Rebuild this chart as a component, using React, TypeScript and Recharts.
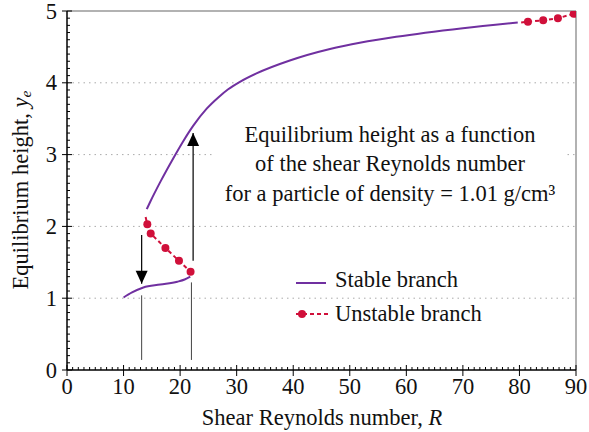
import React from "react";
import { LineChart, Line, XAxis, YAxis, ReferenceLine } from "recharts";

// stable branch, lower and upper pieces (R, y_e)
const stableLowR = [10, 11.5, 13.5, 16.5, 19.5, 20.8, 21.8];
const stableLowY = [1.01, 1.08, 1.15, 1.19, 1.23, 1.26, 1.3];
const stableUpR = [14.1, 14.7, 16.5, 18.8, 20.5, 22.3, 24.7, 26.8, 28.5, 30.5, 33.5, 39.4, 46.5, 52, 58.2, 70, 79.7];
const stableUpY = [2.24, 2.34, 2.62, 2.95, 3.18, 3.4, 3.64, 3.8, 3.91, 4.01, 4.13, 4.31, 4.47, 4.56, 4.64, 4.76, 4.84];

// unstable branch (first point of each piece is a lead-in, no marker)
const unstableLowR = [13.9, 14.2, 14.8, 17.4, 19.8, 21.85];
const unstableLowY = [2.13, 2.03, 1.9, 1.7, 1.52, 1.37];
const unstableUpR = [80.3, 81.5, 84.2, 86.8, 89.6];
const unstableUpY = [4.84, 4.85, 4.87, 4.9, 4.96];

// jump arrows and guide lines
const downArrowR = [13.2, 13.2];
const downArrowY = [1.88, 1.2];
const upArrowR = [22.3, 22.3];
const upArrowY = [1.52, 3.3];
const guideLeftR = [13.2, 13.2];
const guideLeftY = [1.04, 0.14];
const guideRightR = [22.0, 22.0];
const guideRightY = [1.22, 0.14];

const xMajor = [0, 10, 20, 30, 40, 50, 60, 70, 80, 90];
const yMajor = [0, 1, 2, 3, 4, 5];
const gridY = [1, 2, 3, 4];

const xTicks = Array.from({ length: 91 }, (_, i) => i);
const yTicks = Array.from({ length: 51 }, (_, i) => i / 10);

const PURPLE = "#7030a0";
const RED = "#d0103a";
const FONT = '"Liberation Serif", "Times New Roman", serif';
const FS = 22.5;

const pts = (xs: number[], ys: number[]) => xs.map((x, i) => ({ x, y: ys[i] }));

const XTick = (props: any) => {
  const { x, y, payload } = props;
  const v = payload.value;
  const major = xMajor.includes(v);
  return (
    <g>
      <line x1={x} x2={x} y1={major ? y + 6 : y} y2={major ? y - 5 : y - 3} stroke="#000" strokeWidth={1} />
      {major && (
        <text x={x} y={y + 24} textAnchor="middle" fontSize={FS} fontFamily={FONT} fill="#111">
          {v}
        </text>
      )}
    </g>
  );
};

const YTick = (props: any) => {
  const { x, y, payload } = props;
  const v = Math.round(payload.value * 10) / 10;
  const major = yMajor.includes(v);
  return (
    <g>
      <line x1={major ? x - 5 : x} x2={major ? x + 5 : x + 3} y1={y} y2={y} stroke="#000" strokeWidth={1} />
      {major && (
        <text x={x - 10} y={y + 7.5} textAnchor="end" fontSize={FS} fontFamily={FONT} fill="#111">
          {v}
        </text>
      )}
    </g>
  );
};

const redDot = (p: any) =>
  p.index === 0 ? <g key={p.index} /> : <circle key={p.index} cx={p.cx} cy={p.cy} r={4} fill={RED} />;

const arrowHead = (dir: number) => (p: any) =>
  p.index === 1 ? (
    <polygon
      key={p.index}
      points={`${p.cx - 6},${p.cy + dir * 13} ${p.cx + 6},${p.cy + dir * 13} ${p.cx},${p.cy}`}
      fill="#000"
    />
  ) : (
    <g key={p.index} />
  );

export default function App() {
  return (
    <div
      style={{
        position: "absolute",
        left: 0,
        top: 0,
        width: 589,
        height: 432,
        background: "#fff",
        fontFamily: FONT,
        color: "#111",
      }}
    >
      <LineChart width={589} height={432} margin={{ top: 11, right: 13, left: 0, bottom: 0 }}>
        <XAxis
          type="number"
          dataKey="x"
          domain={[0, 90]}
          ticks={xTicks}
          interval={0}
          height={62}
          tickSize={0}
          tickMargin={0}
          tickLine={false}
          tick={XTick}
          axisLine={{ stroke: "#000", strokeWidth: 1.5 }}
          allowDataOverflow
        />
        <YAxis
          type="number"
          dataKey="y"
          domain={[0, 5]}
          ticks={yTicks}
          interval={0}
          width={67}
          tickSize={0}
          tickMargin={0}
          tickLine={false}
          tick={YTick}
          axisLine={{ stroke: "#000", strokeWidth: 1.5 }}
          allowDataOverflow
        />
        {gridY.map((g) => (
          <ReferenceLine key={g} y={g} stroke="#aaa" strokeDasharray="1.5 4" />
        ))}
        <ReferenceLine y={5} stroke="#999" strokeWidth={1.5} />
        <ReferenceLine x={90} stroke="#999" strokeWidth={1.5} />

        <Line data={pts(guideLeftR, guideLeftY)} dataKey="y" stroke="#444" strokeWidth={1} dot={false} activeDot={false} isAnimationActive={false} />
        <Line data={pts(guideRightR, guideRightY)} dataKey="y" stroke="#444" strokeWidth={1} dot={false} activeDot={false} isAnimationActive={false} />
        <Line data={pts(downArrowR, downArrowY)} dataKey="y" stroke="#000" strokeWidth={1.2} dot={arrowHead(-1)} activeDot={false} isAnimationActive={false} />
        <Line data={pts(upArrowR, upArrowY)} dataKey="y" stroke="#000" strokeWidth={1.2} dot={arrowHead(1)} activeDot={false} isAnimationActive={false} />

        <Line data={pts(stableLowR, stableLowY)} dataKey="y" type="monotone" stroke={PURPLE} strokeWidth={2} dot={false} activeDot={false} isAnimationActive={false} />
        <Line data={pts(stableUpR, stableUpY)} dataKey="y" type="monotone" stroke={PURPLE} strokeWidth={2} dot={false} activeDot={false} isAnimationActive={false} />
        <Line data={pts(unstableLowR, unstableLowY)} dataKey="y" stroke={RED} strokeWidth={2} strokeDasharray="4 3" dot={redDot} activeDot={false} isAnimationActive={false} />
        <Line data={pts(unstableUpR, unstableUpY)} dataKey="y" stroke={RED} strokeWidth={2} strokeDasharray="4 3" dot={redDot} activeDot={false} isAnimationActive={false} />
      </LineChart>

      {/* annotation box */}
      <div
        style={{
          position: "absolute",
          left: 213,
          top: 117,
          width: 354,
          height: 96,
          background: "#fff",
          textAlign: "center",
          fontSize: FS,
          lineHeight: "29.5px",
          paddingTop: 2.5,
          boxSizing: "border-box",
          whiteSpace: "nowrap",
        }}
      >
        Equilibrium height as a function
        <br />
        of the shear Reynolds number
        <br />
        for a particle of density = 1.01 g/cm³
      </div>

      {/* legend */}
      <svg style={{ position: "absolute", left: 290, top: 270 }} width={45} height={60}>
        <line x1={6} x2={36} y1={13} y2={13} stroke={PURPLE} strokeWidth={2} />
        <line x1={6} x2={38} y1={44} y2={44} stroke={RED} strokeWidth={2} strokeDasharray="4 3" />
        <circle cx={12} cy={44} r={4} fill={RED} />
      </svg>
      <div style={{ position: "absolute", left: 335, top: 268, fontSize: FS, lineHeight: "24px", whiteSpace: "nowrap" }}>Stable branch</div>
      <div style={{ position: "absolute", left: 335, top: 302, fontSize: FS, lineHeight: "24px", whiteSpace: "nowrap" }}>Unstable branch</div>

      {/* axis titles */}
      <div
        style={{
          position: "absolute",
          left: 122,
          top: 406,
          width: 400,
          textAlign: "center",
          fontSize: FS,
          lineHeight: "24px",
          whiteSpace: "nowrap",
        }}
      >
        Shear Reynolds number, <i>R</i>
      </div>
      <div
        style={{
          position: "absolute",
          left: 21 - 150,
          top: 190 - 12,
          width: 300,
          height: 24,
          textAlign: "center",
          fontSize: FS,
          lineHeight: "24px",
          transform: "rotate(-90deg)",
          transformOrigin: "center",
          whiteSpace: "nowrap",
        }}
      >
        Equilibrium height, <i>y</i>
        <i style={{ fontSize: 15.5, verticalAlign: "-3px" }}>e</i>
      </div>
    </div>
  );
}
